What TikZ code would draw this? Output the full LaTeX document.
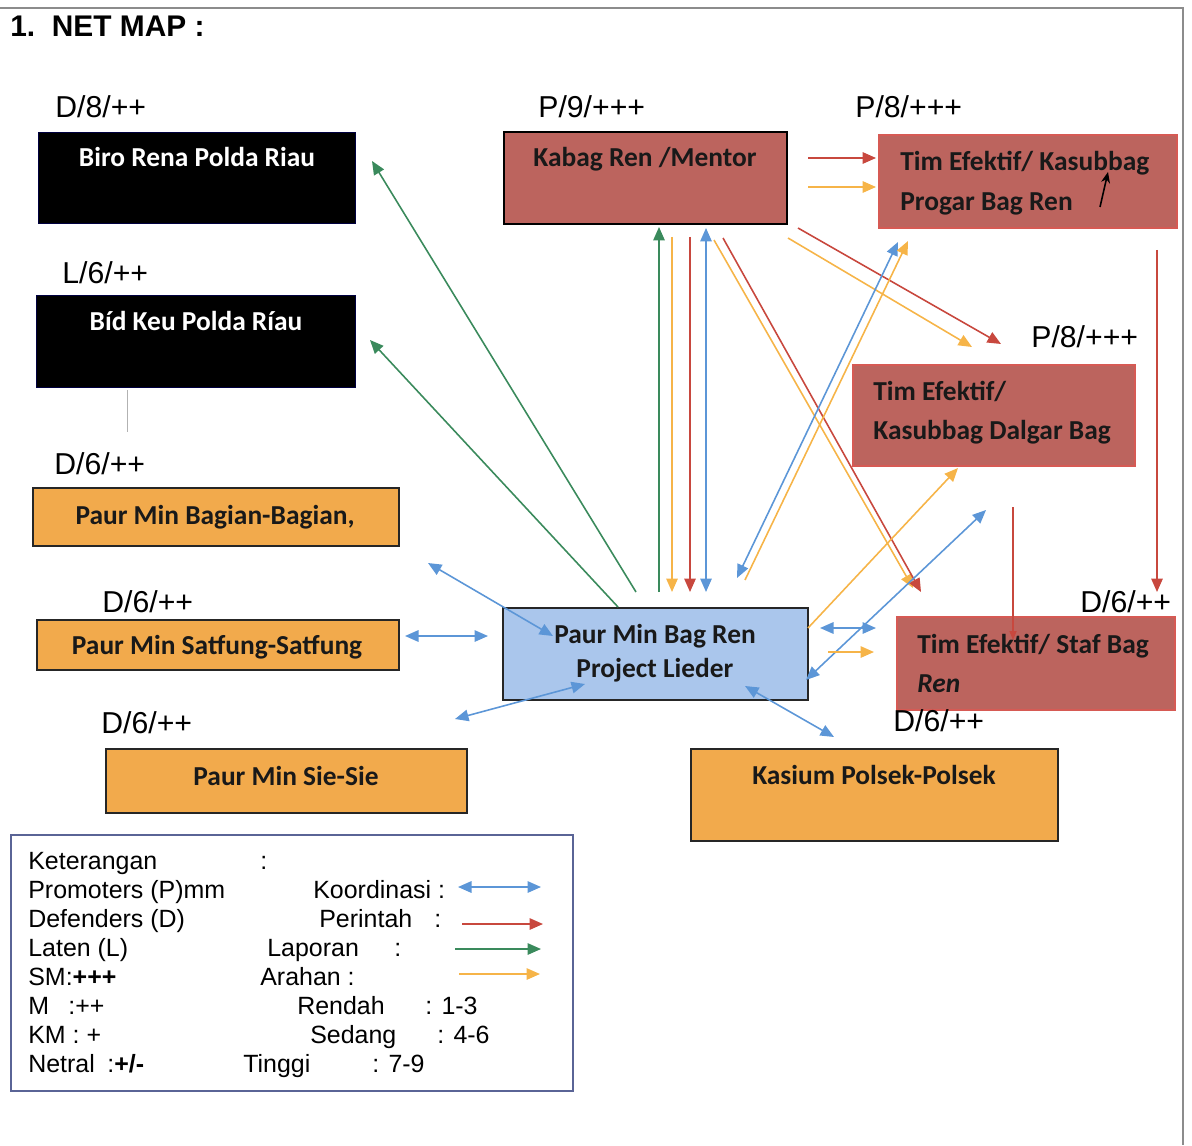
\documentclass[tikz,border=0pt]{standalone}
\usepackage{fontspec}
\setmainfont{Liberation Sans}
\newfontfamily\calibri{Carlito}
\usetikzlibrary{arrows.meta}
\definecolor{orng}{RGB}{242,170,76}
\definecolor{lblue}{RGB}{170,198,236}
\definecolor{rbox}{RGB}{188,100,94}
\definecolor{rboxline}{RGB}{214,90,84}
\definecolor{cblue}{RGB}{92,150,215}
\definecolor{cred}{RGB}{200,72,62}
\definecolor{cgreen}{RGB}{58,138,92}
\definecolor{corange}{RGB}{246,180,72}
\definecolor{legline}{RGB}{90,100,150}
\tikzset{
  bx/.style 2 args={minimum width=#1*0.02cm, minimum height=#2*0.02cm, anchor=north west, inner sep=0pt},
  blackbox/.style={fill=black, draw=black!75!blue, line width=0.8pt},
  orbox/.style={fill=orng, draw=black!85, line width=0.9pt},
  bluebox/.style={fill=lblue, draw=black!85, line width=0.9pt},
  redbox/.style={fill=rbox, draw=black, line width=0.9pt},
  redboxb/.style={fill=rbox, draw=rboxline, line width=0.9pt},
  btext/.style={font=\calibri\bfseries\fontsize{15.6}{18}\selectfont, inner sep=0pt, text=black!90},
  lbl/.style={font=\fontsize{17.2}{19}\selectfont, anchor=base west, inner sep=0pt},
  leg/.style={font=\fontsize{14.2}{16}\selectfont, anchor=base west, inner sep=0pt},
  con/.style={line width=0.9pt},
  tip/.style={-{Triangle[length=0.27cm,width=0.23cm]}},
  dtip/.style={{Triangle[length=0.27cm,width=0.23cm]}-{Triangle[length=0.27cm,width=0.23cm]}},
  koord/.style={con, cblue, dtip},
  perintah/.style={con, cred, tip},
  laporan/.style={con, cgreen, tip},
  arahan/.style={con, corange, tip},
}
\begin{document}
\begin{tikzpicture}[x=0.02cm, y=-0.02cm]
\useasboundingbox (0,0) rectangle (1192,1145);
\draw[black!45, line width=0.7pt] (0,8) -- (1183,8) -- (1183,1145);

% title
\node[font=\bfseries\fontsize{17}{19}\selectfont, anchor=base west, inner sep=0pt] (title) at (10,37) {1.\ \ NET MAP :};

% boxes
\node[bx={317}{91}, blackbox] (biro) at (38,132) {};
\node[btext, text=white, anchor=base] (birot) at (197,167) {Biro Rena Polda Riau};
\node[bx={319}{92}, blackbox] (keu) at (36,295) {};
\node[btext, text=white, anchor=base] (keut) at (196,330) {Bíd Keu Polda Ríau};
\draw[black!30, line width=0.5pt] (127,390) -- (127,432);

\node[bx={366}{58}, orbox] (bagian) at (32,487) {};
\node[btext, anchor=base] (bagiant) at (215,524) {Paur Min Bagian-Bagian,};
\node[bx={362}{50}, orbox] (satfung) at (36,619) {};
\node[btext, anchor=base] (satfungt) at (217,654) {Paur Min Satfung-Satfung};
\node[bx={361}{64}, orbox] (sie) at (105,748) {};
\node[btext, anchor=base] (siet) at (286,785) {Paur Min Sie-Sie};

\node[bx={305}{92}, bluebox] (pmbr) at (502,607) {};
\node[btext, anchor=base] (pmbrt1) at (655,643) {Paur Min Bag Ren};
\node[btext, anchor=base] (pmbrt2) at (655,677) {Project Lieder};

\node[bx={283}{92}, redbox] (kabag) at (503,131) {};
\node[btext, anchor=base] (kabagt) at (645,167) {Kabag Ren /Mentor};

\node[bx={298}{93}, redboxb] (progar) at (878,134) {};
\node[btext, anchor=base west] (progart1) at (900,171) {Tim Efektif/ Kasubbag};
\node[btext, anchor=base west] (progart2) at (900,211) {Progar Bag Ren};

\node[bx={282}{101}, redboxb] (dalgar) at (852,364) {};
\node[btext, anchor=base west] (dalgart1) at (873,400) {Tim Efektif/};
\node[btext, anchor=base west] (dalgart2) at (873,439) {Kasubbag Dalgar Bag};

\node[bx={278}{93}, redboxb] (staf) at (896,616) {};
\node[btext, anchor=base west] (staft1) at (917,653) {Tim Efektif/ Staf Bag};
\node[btext, anchor=base west, font=\calibri\bfseries\itshape\fontsize{15.6}{18}\selectfont] (staft2) at (917,692) {Ren};

\node[bx={367}{92}, orbox] (kasium) at (690,748) {};
\node[btext, anchor=base] (kasiumt) at (874,784) {Kasium Polsek-Polsek};

% labels
\node[lbl] (l1) at (55,118) {D/8/++};
\node[lbl] (l2) at (538,118) {P/9/+++};
\node[lbl] (l3) at (855,118) {P/8/+++};
\node[lbl] (l4) at (62,283) {L/6/++};
\node[lbl] (l5) at (1031,347) {P/8/+++};
\node[lbl] (l6) at (54,474) {D/6/++};
\node[lbl] (l7) at (102,612) {D/6/++};
\node[lbl] (l8) at (1080,612) {D/6/++};
\node[lbl] (l9) at (101,733) {D/6/++};
\node[lbl] (l10) at (893,731) {D/6/++};

% connector end points
\coordinate (g1s) at (636,592); \coordinate (g1e) at (372,161);
\coordinate (g2s) at (618,607); \coordinate (g2e) at (370,340);
\coordinate (g3s) at (659,592); \coordinate (g3e) at (659,227);
\coordinate (o1s) at (672,237); \coordinate (o1e) at (672,592);
\coordinate (r1s) at (690,237); \coordinate (r1e) at (690,592);
\coordinate (b1s) at (706,228); \coordinate (b1e) at (706,592);
\coordinate (r2s) at (723,238); \coordinate (r2e) at (921,592);
\coordinate (o2s) at (714,240); \coordinate (o2e) at (913,588);
\coordinate (r3s) at (798,228); \coordinate (r3e) at (1001,344);
\coordinate (o3s) at (788,238); \coordinate (o3e) at (972,347);
\coordinate (r4s) at (808,158); \coordinate (r4e) at (876,158);
\coordinate (o4s) at (808,187); \coordinate (o4e) at (876,187);
\coordinate (b2s) at (898,242); \coordinate (b2e) at (737,578);
\coordinate (o5s) at (745,580); \coordinate (o5e) at (908,241);
\coordinate (o6s) at (808,628); \coordinate (o6e) at (958,468);
\coordinate (b3s) at (806,680); \coordinate (b3e) at (986,510);
\coordinate (b4s) at (820,628); \coordinate (b4e) at (876,628);
\coordinate (o7s) at (828,652); \coordinate (o7e) at (874,652);
\coordinate (r5s) at (1157,250); \coordinate (r5e) at (1157,592);
\coordinate (r6s) at (1013,507); \coordinate (r6e) at (1013,640);
\coordinate (b5s) at (428,563); \coordinate (b5e) at (553,636);
\coordinate (b6s) at (405,636); \coordinate (b6e) at (488,636);
\coordinate (b7s) at (455,719); \coordinate (b7e) at (585,684);
\coordinate (b8s) at (745,686); \coordinate (b8e) at (834,737);
\coordinate (k1s) at (1100,207); \coordinate (k1e) at (1108,172);

% connectors
\draw[laporan] (g1s) -- (g1e);
\draw[laporan] (g2s) -- (g2e);
\draw[laporan] (g3s) -- (g3e);
\draw[arahan] (o1s) -- (o1e);
\draw[perintah] (r1s) -- (r1e);
\draw[koord] (b1s) -- (b1e);
\draw[arahan] (o2s) -- (o2e);
\draw[perintah] (r2s) -- (r2e);
\draw[arahan] (o3s) -- (o3e);
\draw[perintah] (r3s) -- (r3e);
\draw[perintah] (r4s) -- (r4e);
\draw[arahan] (o4s) -- (o4e);
\draw[koord] (b2s) -- (b2e);
\draw[arahan] (o5s) -- (o5e);
\draw[arahan] (o6s) -- (o6e);
\draw[koord] (b3s) -- (b3e);
\draw[koord] (b4s) -- (b4e);
\draw[arahan] (o7s) -- (o7e);
\draw[perintah] (r5s) -- (r5e);
\draw[con, cred, -{Triangle[length=0.18cm,width=0.14cm]}] (r6s) -- (r6e);
\draw[koord] (b5s) -- (b5e);
\draw[koord] (b6s) -- (b6e);
\draw[koord] (b7s) -- (b7e);
\draw[koord] (b8s) -- (b8e);
\draw[line width=0.9pt, black, -{Stealth[length=0.22cm,width=0.18cm]}] (k1s) -- (k1e);

% legend
\node[bx={562}{256}, draw=legline, line width=0.9pt] (legend) at (10,834) {};
\node[leg] (t1) at (28,869) {Keterangan};
\node[leg] (t1c) at (260,869) {:};
\node[leg] (t2) at (28,898) {Promoters (P)mm};
\node[leg] (t2b) at (313,898) {Koordinasi :};
\node[leg] (t3) at (28,927) {Defenders (D)};
\node[leg] (t3b) at (319,927) {Perintah};
\node[leg] (t3c) at (434,927) {:};
\node[leg] (t4) at (28,956) {Laten (L)};
\node[leg] (t4b) at (267,956) {Laporan};
\node[leg] (t4c) at (394,956) {:};
\node[leg] (t5) at (28,985) {SM:\textbf{+++}};
\node[leg] (t5b) at (260,985) {Arahan :};
\node[leg] (t6) at (28,1014) {M};
\node[leg] (t6a) at (68,1014) {:++};
\node[leg] (t6b) at (297,1014) {Rendah};
\node[leg] (t6c) at (425,1014) {: 1-3};
\node[leg] (t7) at (28,1043) {KM : +};
\node[leg] (t7b) at (310,1043) {Sedang};
\node[leg] (t7c) at (437,1043) {: 4-6};
\node[leg] (t8) at (28,1072) {Netral};
\node[leg] (t8a) at (107,1072) {:\textbf{+/-}};
\node[leg] (t8b) at (243,1072) {Tinggi};
\node[leg] (t8c) at (372,1072) {: 7-9};
\coordinate (lk1) at (458,887); \coordinate (lk2) at (541,887);
\coordinate (lp1) at (462,924); \coordinate (lp2) at (543,924);
\coordinate (ll1) at (455,949); \coordinate (ll2) at (541,949);
\coordinate (la1) at (459,974); \coordinate (la2) at (540,974);
\draw[koord] (lk1) -- (lk2);
\draw[perintah] (lp1) -- (lp2);
\draw[laporan] (ll1) -- (ll2);
\draw[arahan] (la1) -- (la2);
\end{tikzpicture}
\end{document}
